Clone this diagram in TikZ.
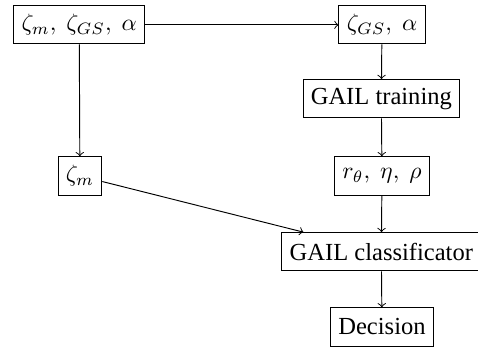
\documentclass[tikz,border=0pt]{standalone}
\usepackage{fontspec}
\setmainfont{Liberation Serif}
\tikzset{stagebox/.style={draw,rectangle,minimum height=16.2pt,inner sep=3.3pt,font=\fontsize{10.4}{12.5}\selectfont}}
\newcommand{\stage}[4]{\node[stagebox] (#1) at (#2,#3) {#4};}
\newcommand{\flow}[2]{\draw[->] (#1) -- (#2);}

\begin{document}
\begin{tikzpicture}
    \useasboundingbox (0,0) rectangle (7.12,-5.17);
    \stage{in}{1.18}{-0.37}{$\zeta_m,\ \zeta_{GS},\ \alpha$}
    \stage{gs}{5.69}{-0.37}{$\zeta_{GS},\ \alpha$}
    \stage{train}{5.68}{-1.47}{GAIL training}
    \stage{zm}{1.19}{-2.62}{$\zeta_m$}
    \stage{par}{5.69}{-2.62}{$r_\theta,\ \eta,\ \rho$}
    \stage{cls}{5.68}{-3.75}{GAIL classificator}
    \stage{dec}{5.69}{-4.87}{Decision}
    \flow{in}{gs}\flow{gs}{train}\flow{train}{par}
    \flow{par}{cls}\flow{cls}{dec}
    \flow{in}{zm}\flow{zm}{cls}
\end{tikzpicture}
\end{document}
